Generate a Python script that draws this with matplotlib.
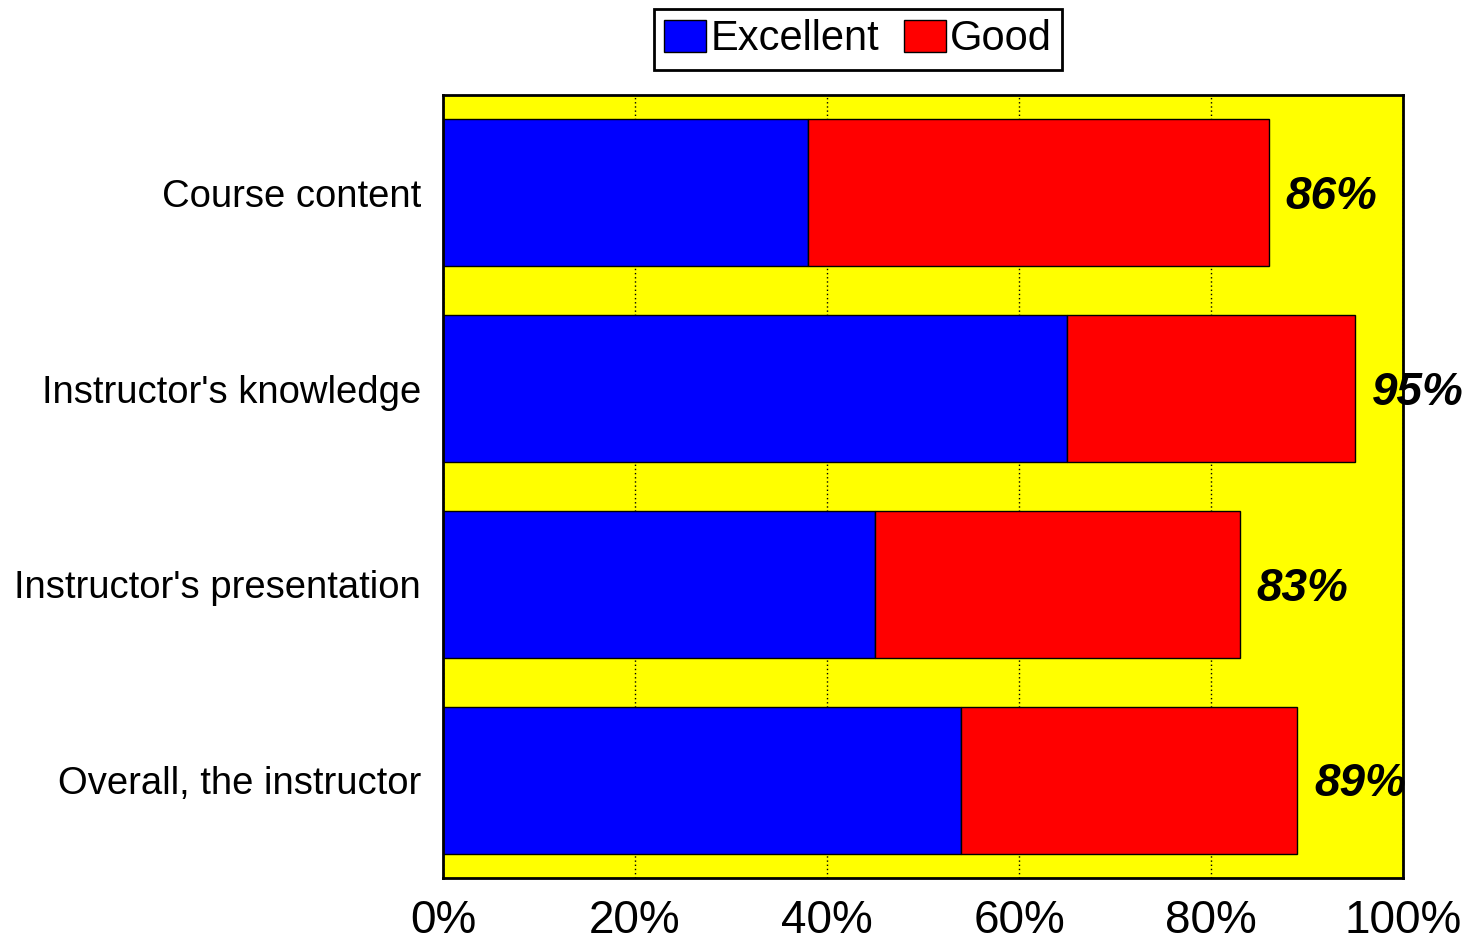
import matplotlib
matplotlib.use('Agg')
import matplotlib.pyplot as plt
from matplotlib.transforms import ScaledTranslation

categories = ["Course content", "Instructor's knowledge",
              "Instructor's presentation", "Overall, the instructor"]
excellent = [38, 65, 45, 54]
good = [48, 30, 38, 35]
totals = [86, 95, 83, 89]
x_ticks = [0, 20, 40, 60, 80, 100]
x_tick_labels = ['0%', '20%', '40%', '60%', '80%', '100%']

plt.rcParams['font.family'] = ['Liberation Sans', 'DejaVu Sans']

fig = plt.figure(figsize=(14.72, 9.41), dpi=100)
ax = fig.add_axes([443 / 1472, 1 - 878 / 941, 960 / 1472, 783 / 941])
ax.set_facecolor('#FFFF00')

y = list(range(len(categories)))
ax.barh(y, excellent, height=0.75, color='#0000FF', edgecolor='black',
        linewidth=1, label='Excellent', zorder=3)
ax.barh(y, good, left=excellent, height=0.75, color='#FF0000',
        edgecolor='black', linewidth=1, label='Good', zorder=3)

for yi, t in zip(y, totals):
    ax.annotate(f'{t}%', xy=(t, yi), xytext=(12, -3), textcoords='offset points',
                ha='left', va='center', fontsize=33, fontweight='bold',
                fontstyle='italic', zorder=4, annotation_clip=False)

ax.set_xlim(0, 100)
ax.set_ylim(3.5, -0.5)
ax.set_yticks(y)
ax.set_yticklabels(categories, fontsize=27.5)
# nudge category names down a little
shift = ScaledTranslation(0, -3 / 72, fig.dpi_scale_trans)
for lbl in ax.get_yticklabels():
    lbl.set_transform(lbl.get_transform() + shift)
ax.set_xticks(x_ticks)
ax.set_xticklabels(x_tick_labels, fontsize=33)
ax.tick_params(axis='both', length=0)
ax.tick_params(axis='x', pad=15)
ax.tick_params(axis='y', pad=16)

ax.xaxis.grid(True, linestyle=(0, (1, 2)), color='black', linewidth=1, zorder=1)
ax.set_axisbelow(True)
for s in ax.spines.values():
    s.set_linewidth(2)
    s.set_zorder(5)

leg = fig.legend(loc='upper center', bbox_to_anchor=(858 / 1472, 1 - 9 / 941),
                 ncol=2, fontsize=30, frameon=True, fancybox=False, framealpha=1,
                 handlelength=1.0, handleheight=0.8, handletextpad=0.1,
                 columnspacing=0.6, borderpad=0.25, borderaxespad=0)
leg.get_frame().set_edgecolor('black')
leg.get_frame().set_linewidth(2)

fig.savefig('out.png', dpi=100)
